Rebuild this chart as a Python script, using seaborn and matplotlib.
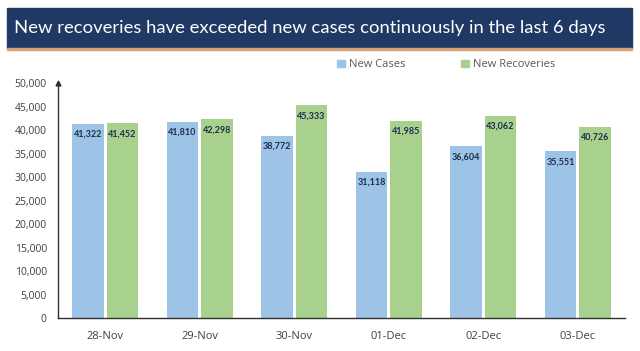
import pandas as pd
import matplotlib.pyplot as plt
import seaborn as sns
from matplotlib.patches import Rectangle, Patch

# data
dates = ['28-Nov', '29-Nov', '30-Nov', '01-Dec', '02-Dec', '03-Dec']
new_cases = [41322, 41810, 38772, 31118, 36604, 35551]
new_recoveries = [41452, 42298, 45333, 41985, 43062, 40726]
series_names = ['New Cases', 'New Recoveries']
y_ticks = list(range(0, 50001, 5000))

df = pd.DataFrame({'date': dates * 2,
                   'series': [series_names[0]] * 6 + [series_names[1]] * 6,
                   'value': new_cases + new_recoveries})

sns.set_style('white')
plt.rcParams['font.family'] = ['Open Sans', 'DejaVu Sans']

colors = {'New Cases': '#9DC3E6', 'New Recoveries': '#A9D18E'}

fig = plt.figure(figsize=(6.4, 3.51), dpi=100)
ax = fig.add_axes([0.0906, 0.094, 0.886, 0.6695])

sns.barplot(data=df, x='date', y='value', hue='series', palette=colors,
            width=0.73, gap=0.08, ax=ax, legend=False, saturation=1,
            linewidth=0)

for cont in ax.containers:
    ax.bar_label(cont, labels=[f'{v:,.0f}' for v in cont.datavalues],
                 padding=-11, fontsize=6.5, fontweight='bold', color='#1F2D4D',
                 family=['Lato', 'DejaVu Sans'])

ax.set_xlim(-0.5, 5.5)
ax.set_ylim(0, 50000)
ax.set_yticks(y_ticks)
ax.set_yticklabels([f'{t:,}' for t in y_ticks], fontsize=7.5, color='#404040')
ax.set_xticks(range(len(dates)))
ax.set_xticklabels(dates, fontsize=8, color='#404040')
ax.set_xlabel('')
ax.set_ylabel('')
ax.tick_params(axis='x', length=0, pad=9)
ax.tick_params(axis='y', length=0, pad=8)
ax.set_xticks([i + 0.5 for i in range(-1, 6)], minor=True)
ax.tick_params(axis='x', which='minor', length=3, color='#404040', direction='out')

for s in ['top', 'right']:
    ax.spines[s].set_visible(False)
for s in ['left', 'bottom']:
    ax.spines[s].set_color('#303030')
    ax.spines[s].set_linewidth(1.0)
ax.plot(0, 1, marker='^', color='#303030', markersize=3.5,
        transform=ax.transAxes, clip_on=False)

# title banner
fig.patches.append(Rectangle((7 / 640, 1 - 48 / 351), 625 / 640, 40 / 351,
                             transform=fig.transFigure, color='#1F3864', zorder=0))
fig.patches.append(Rectangle((7 / 640, 1 - 50 / 351), 625 / 640, 2 / 351,
                             transform=fig.transFigure, color='#D9A37A', zorder=0))
fig.text(14 / 640, 1 - 28 / 351, 'New recoveries have exceeded new cases continuously in the last 6 days',
         color='white', fontsize=13.3, va='center', ha='left', family=['Lato', 'DejaVu Sans'])

handles = [Patch(color=colors[n]) for n in series_names]
fig.legend(handles, series_names, loc='center', bbox_to_anchor=(0.697, 0.815), ncol=2,
           frameon=False, fontsize=8, labelcolor='#595959', handlelength=0.7,
           handleheight=0.7, handletextpad=0.4, columnspacing=5)

fig.savefig('out.png', dpi=100)
